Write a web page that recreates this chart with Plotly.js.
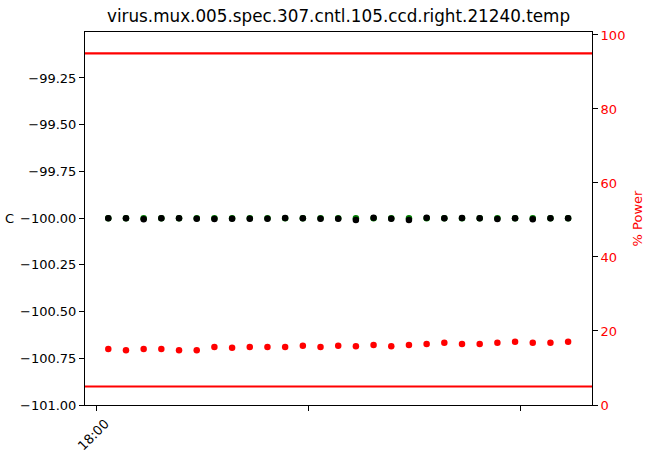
<!DOCTYPE html>
<html>
<head>
<meta charset="utf-8">
<script src="https://cdn.plot.ly/plotly-3.0.1.min.js"></script>
<style>html,body{margin:0;padding:0;background:#fff;}#chart{width:651px;height:458px;}</style>
</head>
<body>
<div id="chart"></div>
<script>
const times = [
  "2024-01-01 18:03:25","2024-01-01 18:08:25","2024-01-01 18:13:25","2024-01-01 18:18:25",
  "2024-01-01 18:23:25","2024-01-01 18:28:25","2024-01-01 18:33:25","2024-01-01 18:38:25",
  "2024-01-01 18:43:25","2024-01-01 18:48:25","2024-01-01 18:53:25","2024-01-01 18:58:25",
  "2024-01-01 19:03:25","2024-01-01 19:08:25","2024-01-01 19:13:25","2024-01-01 19:18:25",
  "2024-01-01 19:23:25","2024-01-01 19:28:25","2024-01-01 19:33:25","2024-01-01 19:38:25",
  "2024-01-01 19:43:25","2024-01-01 19:48:25","2024-01-01 19:53:25","2024-01-01 19:58:25",
  "2024-01-01 20:03:25","2024-01-01 20:08:25","2024-01-01 20:13:25"
];
const setpoint = [
  -100.0,-100.0,-100.0,-100.0,-100.0,-100.0,-100.0,-100.0,-100.0,
  -100.0,-100.0,-100.0,-100.0,-100.0,-100.0,-100.0,-100.0,-100.0,
  -100.0,-100.0,-100.0,-100.0,-100.0,-100.0,-100.0,-100.0,-100.0
];
const temperature = [
  -100.0,-100.0,-100.006,-100.0,-100.0,-100.004,-100.005,-100.004,-100.004,
  -100.004,-99.999,-100.0,-100.004,-100.004,-100.01,-99.998,-100.003,-100.01,
  -99.998,-100.0,-99.999,-100.0,-100.005,-100.0,-100.006,-100.0,-100.0
];
const power = [
  15.1,14.8,15.1,15.1,14.8,14.8,15.7,15.5,15.7,
  15.7,15.7,16.0,15.7,16.0,15.9,16.2,15.9,16.2,
  16.5,16.8,16.5,16.5,16.8,17.1,16.8,16.8,17.1
];
const powerLimits = [5, 95];
const xTickVals = ["2024-01-01 18:00:00","2024-01-01 19:00:00","2024-01-01 20:00:00"];
const xTickText = ["18:00","",""];
const yTickVals = [-101.0,-100.75,-100.5,-100.25,-100.0,-99.75,-99.5,-99.25];
const y2TickVals = [0,20,40,60,80,100];

const font = {family: "DejaVu Sans, sans-serif", size: 13, color: "#000"};

const traces = [
  {x: times, y: setpoint, mode: "markers", type: "scatter", yaxis: "y",
   marker: {color: "green", size: 6.5}, hoverinfo: "skip"},
  {x: times, y: temperature, mode: "markers", type: "scatter", yaxis: "y",
   marker: {color: "black", size: 6.5}, hoverinfo: "skip"},
  {x: times, y: power, mode: "markers", type: "scatter", yaxis: "y2",
   marker: {color: "red", size: 6.5}, hoverinfo: "skip"}
];

const shapes = powerLimits.map(v => ({
  type: "line", xref: "paper", x0: 0, x1: 1, yref: "y2", y0: v, y1: v,
  line: {color: "red", width: 2.2}
}));

const layout = {
  width: 651, height: 458,
  margin: {l: 85, r: 59, t: 32, b: 53, pad: 0},
  paper_bgcolor: "#fff", plot_bgcolor: "#fff",
  showlegend: false,
  font: font,
  title: {text: "virus.mux.005.spec.307.cntl.105.ccd.right.21240.temp",
          x: 0.5, xref: "paper", xanchor: "center", y: 1, yref: "container", yanchor: "top",
          pad: {t: 10}, font: {family: "DejaVu Sans, sans-serif", size: 16.8, color: "#000"}},
  xaxis: {type: "date", range: ["2024-01-01 17:56:50", "2024-01-01 20:20:10"],
          tickmode: "array", tickvals: xTickVals, ticktext: xTickText, tickangle: -45,
          ticklabelshift: 9,
          ticks: "outside", ticklen: 5, tickcolor: "#000", tickwidth: 1,
          showline: true, linecolor: "#000", linewidth: 1, mirror: true,
          showgrid: false, zeroline: false, tickfont: font},
  yaxis: {range: [-101.0, -99.004], tickmode: "array", tickvals: yTickVals,
          tickformat: ".2f", ticks: "outside", ticklen: 5, tickcolor: "#000",
          showline: true, linecolor: "#000", linewidth: 1,
          showgrid: false, zeroline: false, tickfont: font},
  yaxis2: {range: [0, 100.8], overlaying: "y", side: "right", tickmode: "array",
           tickvals: y2TickVals, ticks: "outside", ticklen: 5, tickcolor: "#000",
           showline: true, linecolor: "#000", linewidth: 1,
           showgrid: false, zeroline: false,
           tickfont: {family: "DejaVu Sans, sans-serif", size: 13, color: "red"},
           title: {text: "% Power", standoff: 8,
                   font: {family: "DejaVu Sans, sans-serif", size: 13, color: "red"}}},
  shapes: shapes,
  annotations: [{text: "C", xref: "paper", yref: "paper", x: -0.148, y: 0.5,
                 xanchor: "center", yanchor: "middle", showarrow: false, font: font}]
};

Plotly.newPlot("chart", traces, layout, {displayModeBar: false, staticPlot: true});
</script>
</body>
</html>
